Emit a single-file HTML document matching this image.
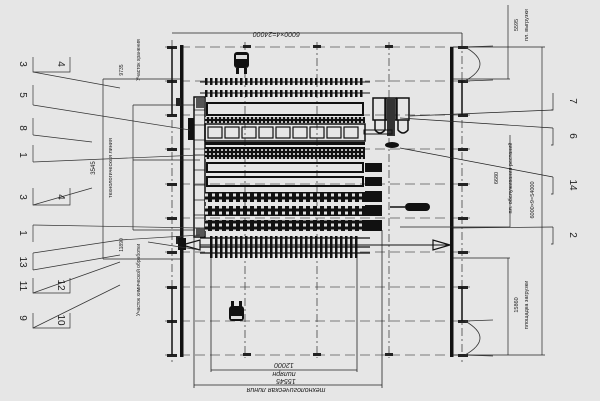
<!DOCTYPE html>
<html><head><meta charset="utf-8"><style>
html,body{margin:0;padding:0;background:#e6e6e6;width:600px;height:401px;overflow:hidden}
svg{display:block}
text{font-family:"Liberation Sans","DejaVu Sans",sans-serif;fill:#222}
</style></head><body>
<svg width="600" height="401" viewBox="0 0 600 401" xmlns="http://www.w3.org/2000/svg">
<defs>
<pattern id="cv" width="5" height="10" patternUnits="userSpaceOnUse"><rect width="5" height="10" fill="#e6e6e6"/><rect x="0" width="2.5" height="10" fill="#111"/></pattern>
<pattern id="gr" width="4" height="4" patternUnits="userSpaceOnUse"><rect width="4" height="4" fill="#111"/><rect x="1" y="1" width="2" height="2" fill="#bbb"/></pattern>
<pattern id="bk" width="7" height="6" patternUnits="userSpaceOnUse"><rect width="7" height="6" fill="#111"/><rect x="2" y="1.5" width="3" height="3" fill="#ddd"/></pattern>
</defs>
<rect width="600" height="401" fill="#e6e6e6"/>
<g stroke="#555" stroke-width="0.8" stroke-dasharray="10,5" fill="none">
<line x1="165" y1="47" x2="470" y2="47"/><line x1="165" y1="81" x2="470" y2="81"/>
<line x1="165" y1="115" x2="470" y2="115"/><line x1="165" y1="149" x2="470" y2="149"/>
<line x1="165" y1="184" x2="470" y2="184"/><line x1="165" y1="218" x2="470" y2="218"/>
<line x1="165" y1="252" x2="470" y2="252"/><line x1="165" y1="287" x2="470" y2="287"/>
<line x1="165" y1="321" x2="470" y2="321"/><line x1="165" y1="355" x2="470" y2="355"/>
</g>
<g stroke="#444" stroke-width="0.8" stroke-dasharray="8,3,2,3" fill="none">
<line x1="172" y1="40" x2="172" y2="362"/><line x1="462" y1="40" x2="462" y2="362"/>
<line x1="245" y1="42" x2="245" y2="358"/><line x1="317" y1="42" x2="317" y2="358"/><line x1="389" y1="42" x2="389" y2="358"/>
</g>
<rect x="180" y="45" width="3.5" height="312" fill="#111"/>
<rect x="450" y="47" width="3.5" height="310" fill="#111"/>
<g fill="#222"><rect x="176" y="98" width="5" height="8"/><rect x="176" y="236" width="5" height="8"/>
<rect x="243" y="45" width="8" height="3"/><rect x="313" y="45" width="8" height="3"/><rect x="385" y="45" width="8" height="3"/>
<rect x="243" y="353" width="8" height="3"/><rect x="313" y="353" width="8" height="3"/><rect x="385" y="353" width="8" height="3"/>
<rect x="458" y="46" width="10" height="3"/><rect x="458" y="80" width="10" height="3"/><rect x="458" y="114" width="10" height="3"/><rect x="458" y="148" width="10" height="3"/><rect x="458" y="183" width="10" height="3"/><rect x="458" y="217" width="10" height="3"/><rect x="458" y="251" width="10" height="3"/><rect x="458" y="286" width="10" height="3"/><rect x="458" y="320" width="10" height="3"/><rect x="458" y="354" width="10" height="3"/>
<rect x="167" y="46" width="10" height="3"/><rect x="167" y="80" width="10" height="3"/><rect x="167" y="114" width="10" height="3"/><rect x="167" y="148" width="10" height="3"/><rect x="167" y="183" width="10" height="3"/><rect x="167" y="217" width="10" height="3"/><rect x="167" y="251" width="10" height="3"/><rect x="167" y="286" width="10" height="3"/><rect x="167" y="320" width="10" height="3"/><rect x="167" y="354" width="10" height="3"/>
</g>
<g stroke="#111" stroke-width="1.5"><line x1="172" y1="47" x2="172" y2="115"/><line x1="172" y1="287" x2="172" y2="355"/><line x1="462" y1="81" x2="462" y2="115"/><line x1="462" y1="287" x2="462" y2="321"/></g>
<g stroke="#333" fill="none" stroke-width="0.8">
<path d="M465 47 L493 46 M465 81 L493 80 M465 47 Q495 64 465 81"/>
<path d="M465 321 L493 320 M465 355 L493 356 M465 321 Q495 338 465 355"/>
</g>
<line x1="172" y1="33" x2="462" y2="33" stroke="#222" stroke-width="0.8"/>
<line x1="462" y1="33" x2="462" y2="47" stroke="#222" stroke-width="0.8"/>
<text x="300" y="38" font-size="7" font-style="italic" transform="rotate(180 300 35)">6000×4=24000</text>
<g fill="#111"><rect x="234" y="52" width="15" height="16" rx="3"/><rect x="236" y="68" width="3" height="6"/><rect x="244" y="68" width="3" height="6"/>
<rect x="229" y="306" width="15" height="15" rx="3"/><rect x="231" y="301" width="3" height="6"/><rect x="239" y="301" width="3" height="6"/></g>
<rect x="236" y="55" width="11" height="4" fill="#ddd"/><rect x="231" y="316" width="11" height="3" fill="#ddd"/>
<rect x="205" y="78" width="160" height="7" fill="url(#cv)"/><rect x="205" y="90" width="160" height="7" fill="url(#cv)"/>
<g stroke="#111" stroke-width="1"><line x1="200" y1="82" x2="370" y2="82"/><line x1="200" y1="93" x2="370" y2="93"/></g>
<rect x="194" y="97" width="11" height="140" fill="none" stroke="#111" stroke-width="1.5"/>
<g stroke="#111" stroke-width="0.7"><line x1="194" y1="110" x2="205" y2="110"/><line x1="194" y1="125" x2="205" y2="125"/><line x1="194" y1="140" x2="205" y2="140"/><line x1="194" y1="155" x2="205" y2="155"/><line x1="194" y1="170" x2="205" y2="170"/><line x1="194" y1="185" x2="205" y2="185"/><line x1="194" y1="200" x2="205" y2="200"/><line x1="194" y1="215" x2="205" y2="215"/><line x1="194" y1="228" x2="205" y2="228"/></g>
<rect x="188" y="118" width="6" height="22" fill="#111"/>
<rect x="196" y="98" width="8" height="10" fill="#555"/><rect x="196" y="228" width="8" height="8" fill="#555"/>
<rect x="207" y="103" width="156" height="12" fill="none" stroke="#111" stroke-width="2"/>
<rect x="205" y="117" width="160" height="6" fill="url(#gr)"/>
<rect x="205" y="124" width="160" height="17" fill="none" stroke="#111" stroke-width="1.5"/>
<g fill="none" stroke="#111" stroke-width="1.2">
<rect x="208" y="127" width="14" height="11"/><rect x="225" y="127" width="14" height="11"/><rect x="242" y="127" width="14" height="11"/><rect x="259" y="127" width="14" height="11"/><rect x="276" y="127" width="14" height="11"/><rect x="293" y="127" width="14" height="11"/><rect x="310" y="127" width="14" height="11"/><rect x="327" y="127" width="14" height="11"/><rect x="344" y="127" width="14" height="11"/></g>
<rect x="205" y="142" width="160" height="3" fill="#111"/>
<rect x="205" y="147" width="160" height="12" fill="url(#gr)"/>
<rect x="207" y="163" width="156" height="9" fill="none" stroke="#111" stroke-width="2"/>
<rect x="207" y="177" width="156" height="9" fill="none" stroke="#111" stroke-width="2"/>
<rect x="205" y="192" width="160" height="10" fill="url(#bk)"/>
<rect x="205" y="206" width="160" height="10" fill="url(#bk)"/>
<rect x="205" y="220" width="160" height="11" fill="url(#bk)"/>
<g fill="#111"><rect x="365" y="163" width="17" height="9"/><rect x="365" y="177" width="17" height="9"/><rect x="365" y="191" width="17" height="11"/><rect x="365" y="205" width="17" height="11"/><rect x="365" y="220" width="17" height="11"/></g>
<g fill="none" stroke="#111" stroke-width="1.5"><rect x="373" y="98" width="12" height="22"/><rect x="386" y="98" width="10" height="22"/><rect x="397" y="98" width="12" height="22"/>
<path d="M375 120 v10 q5 6 10 0 v-10 M398 120 v10 q5 6 10 0 v-10"/></g>
<rect x="387" y="98" width="8" height="38" fill="#333"/>
<ellipse cx="392" cy="145" rx="7" ry="3" fill="#111"/>
<rect x="364" y="130" width="28" height="4" fill="none" stroke="#111"/>
<rect x="210" y="236" width="150" height="22" fill="url(#cv)"/>
<g stroke="#111" stroke-width="1.2"><line x1="200" y1="238" x2="370" y2="238"/><line x1="200" y1="247" x2="370" y2="247"/><line x1="200" y1="253" x2="370" y2="253"/></g>
<path d="M182 245 L200 240 L200 250 Z" fill="none" stroke="#111" stroke-width="1.2"/>
<path d="M450 245 L433 240 L433 250 Z" fill="none" stroke="#111" stroke-width="1.2"/>
<line x1="200" y1="245" x2="450" y2="245" stroke="#111" stroke-width="1"/>
<rect x="178" y="238" width="8" height="12" fill="#111"/>
<rect x="405" y="203" width="25" height="8" rx="4" fill="#111"/><line x1="390" y1="207" x2="405" y2="207" stroke="#111" stroke-width="1.5"/>
<g stroke="#222" stroke-width="0.8" fill="none">
<line x1="211" y1="258" x2="211" y2="372"/><line x1="357" y1="258" x2="357" y2="372"/>
<line x1="211" y1="370" x2="357" y2="370"/>
<line x1="194" y1="230" x2="194" y2="388"/><line x1="382" y1="230" x2="382" y2="388"/>
<line x1="194" y1="385" x2="382" y2="385"/>
</g>
<text x="284" y="367" font-size="7" font-style="italic" transform="rotate(180 284 365)" text-anchor="middle">12000</text>
<text x="284" y="376" font-size="7" font-style="italic" transform="rotate(180 284 374)" text-anchor="middle">пилярн</text>
<text x="286" y="383" font-size="7" font-style="italic" transform="rotate(180 286 381)" text-anchor="middle">15545</text>
<text x="286" y="392" font-size="7" font-style="italic" transform="rotate(180 286 390)" text-anchor="middle">технологическая линия</text>
<g stroke="#222" stroke-width="0.7" fill="none">
<line x1="103" y1="79" x2="103" y2="259"/><line x1="133" y1="105" x2="133" y2="230"/>
<line x1="103" y1="79" x2="180" y2="79"/><line x1="103" y1="259" x2="180" y2="259"/>
<line x1="133" y1="105" x2="195" y2="105"/><line x1="133" y1="160" x2="200" y2="160"/><line x1="133" y1="230" x2="195" y2="230"/>
</g>
<text x="95" y="168" font-size="6" transform="rotate(-90 95 168)" text-anchor="middle">3545</text>
<text x="112" y="168" font-size="5.5" transform="rotate(-90 112 168)" text-anchor="middle">технологическая линия</text>
<text x="123" y="70" font-size="5" transform="rotate(-90 123 70)" text-anchor="middle">9735</text>
<text x="140" y="60" font-size="5" transform="rotate(-90 140 60)" text-anchor="middle">Участок хранения</text>
<text x="123" y="245" font-size="5" transform="rotate(-90 123 245)" text-anchor="middle">11890</text>
<text x="140" y="280" font-size="5" transform="rotate(-90 140 280)" text-anchor="middle">Участок химической обработки</text>
<g stroke="#333" stroke-width="0.7" fill="none">
<path d="M33 57 v15 h37 v-15"/><path d="M33 188 v17 h37 v-17"/><path d="M33 278 v15 h37 v-15"/><path d="M33 313 v15 h37 v-15"/>
<path d="M33 85 v20"/><path d="M33 118 v17"/><path d="M33 145 v17"/><path d="M33 225 v17"/><path d="M33 253 v17"/>
<line x1="33" y1="72" x2="120" y2="88"/><line x1="33" y1="105" x2="190" y2="130"/>
<line x1="33" y1="135" x2="92" y2="142"/><line x1="33" y1="162" x2="200" y2="155"/>
<line x1="33" y1="205" x2="92" y2="188"/><line x1="33" y1="225" x2="200" y2="228"/>
<line x1="33" y1="253" x2="120" y2="240"/><line x1="33" y1="270" x2="120" y2="255"/>
<line x1="33" y1="293" x2="120" y2="262"/><line x1="33" y1="328" x2="120" y2="285"/>
<line x1="120" y1="240" x2="200" y2="235"/><line x1="148" y1="242" x2="200" y2="250"/>
</g>
<g font-size="10" text-anchor="middle">
<text x="20" y="64" transform="rotate(90 20 64)">3</text><text x="20" y="95" transform="rotate(90 20 95)">5</text>
<text x="20" y="128" transform="rotate(90 20 128)">8</text><text x="20" y="155" transform="rotate(90 20 155)">1</text>
<text x="20" y="197" transform="rotate(90 20 197)">3</text><text x="20" y="233" transform="rotate(90 20 233)">1</text>
<text x="20" y="262" transform="rotate(90 20 262)">13</text><text x="20" y="286" transform="rotate(90 20 286)">11</text>
<text x="20" y="318" transform="rotate(90 20 318)">9</text>
<text x="58" y="64" transform="rotate(90 58 64)">4</text><text x="58" y="197" transform="rotate(90 58 197)">4</text>
<text x="58" y="285" transform="rotate(90 58 285)">12</text><text x="58" y="320" transform="rotate(90 58 320)">10</text>
</g>
<g stroke="#222" stroke-width="0.7" fill="none">
<line x1="508" y1="5" x2="508" y2="79"/><line x1="508" y1="258" x2="508" y2="355"/>
<line x1="510" y1="135" x2="510" y2="227"/><line x1="542" y1="47" x2="542" y2="355"/>
<line x1="453" y1="47" x2="545" y2="47"/><line x1="453" y1="355" x2="545" y2="355"/>
<line x1="453" y1="79" x2="510" y2="79"/><line x1="453" y1="258" x2="510" y2="258"/>
<line x1="400" y1="227" x2="510" y2="227"/>
<path d="M553 93 v17 h-2 M553 128 v17 h-2 M553 177 v17 h-2 M553 227 v17 h-2"/>
<line x1="410" y1="116" x2="553" y2="110"/><line x1="400" y1="118" x2="553" y2="128"/>
<line x1="400" y1="148" x2="553" y2="177"/><line x1="453" y1="228" x2="553" y2="227"/>
</g>
<text x="518" y="25" font-size="5.5" transform="rotate(-90 518 25)" text-anchor="middle">5595</text>
<text x="528" y="25" font-size="5.5" transform="rotate(-90 528 25)" text-anchor="middle">пл. выгрузки</text>
<text x="498" y="178" font-size="5.5" transform="rotate(-90 498 178)" text-anchor="middle">6680</text>
<text x="512" y="178" font-size="5.5" transform="rotate(-90 512 178)" text-anchor="middle">пл. обслуживания рестаний</text>
<text x="534" y="200" font-size="5.5" transform="rotate(-90 534 200)" text-anchor="middle">6000×9=54000</text>
<text x="518" y="305" font-size="5.5" transform="rotate(-90 518 305)" text-anchor="middle">15860</text>
<text x="528" y="305" font-size="5.5" transform="rotate(-90 528 305)" text-anchor="middle">площадка загрузки</text>
<g font-size="10" text-anchor="middle">
<text x="570" y="101" transform="rotate(90 570 101)">7</text><text x="570" y="136" transform="rotate(90 570 136)">6</text>
<text x="570" y="185" transform="rotate(90 570 185)">14</text><text x="570" y="235" transform="rotate(90 570 235)">2</text>
</g>
</svg>
</body></html>
